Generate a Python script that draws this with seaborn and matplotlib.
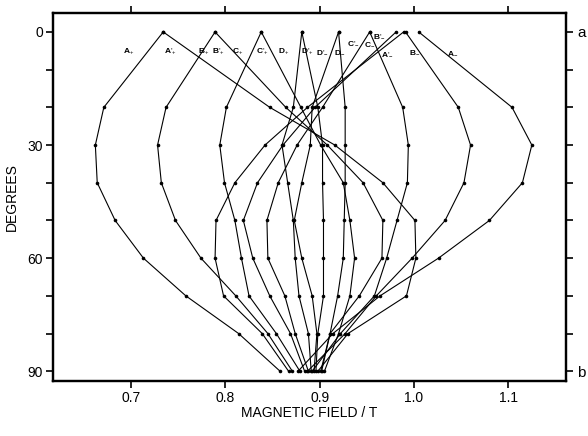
import numpy as np
import pandas as pd
import matplotlib
matplotlib.use("Agg")
import matplotlib.pyplot as plt
import seaborn as sns

# ---- data (field in tesla at each rotation angle) ----
degrees = [0, 20, 30, 40, 50, 60, 70, 80, 90]

A_plus   = [0.734, 0.671, 0.662, 0.664, 0.683, 0.713, 0.758, 0.814, 0.858]
B_plus   = [0.789, 0.737, 0.728, 0.732, 0.747, 0.774, 0.811, 0.845, 0.871]
C_plus   = [0.838, 0.801, 0.794, 0.799, 0.810, 0.817, 0.825, 0.854, 0.879]
D_plus   = [0.881, 0.872, 0.860, 0.866, 0.872, 0.874, 0.878, 0.888, 0.891]
Ap_plus  = [0.734, 0.847, 0.916, 0.967, 1.001, 1.002, 0.992, 0.930, 0.898]
Bp_plus  = [0.789, 0.864, 0.908, 0.946, 0.967, 0.966, 0.942, 0.911, 0.902]
Cp_plus  = [0.838, 0.880, 0.901, 0.925, 0.932, 0.937, 0.932, 0.920, 0.905]
Dp_plus  = [0.881, 0.898, 0.903, 0.903, 0.904, 0.904, 0.904, 0.898, 0.896]
Dp_minus = [0.920, 0.892, 0.890, 0.881, 0.873, 0.881, 0.892, 0.897, 0.894]
D_minus  = [0.920, 0.927, 0.927, 0.927, 0.926, 0.925, 0.919, 0.911, 0.901]
Cp_minus = [0.953, 0.903, 0.876, 0.856, 0.844, 0.845, 0.863, 0.874, 0.888]
C_minus  = [0.953, 0.988, 0.994, 0.993, 0.982, 0.971, 0.958, 0.922, 0.892]
Bp_minus = [0.981, 0.895, 0.861, 0.834, 0.819, 0.829, 0.847, 0.869, 0.884]
B_minus  = [0.991, 1.047, 1.060, 1.053, 1.033, 0.998, 0.960, 0.927, 0.887]
Ap_minus = [0.989, 0.887, 0.842, 0.810, 0.790, 0.789, 0.798, 0.839, 0.867]
A_minus  = [1.005, 1.104, 1.125, 1.115, 1.080, 1.026, 0.964, 0.914, 0.877]

curve_names = ["A+", "B+", "C+", "D+", "A'+", "B'+", "C'+", "D'+",
               "D'-", "D-", "C'-", "C-", "B'-", "B-", "A'-", "A-"]
curve_values = [A_plus, B_plus, C_plus, D_plus, Ap_plus, Bp_plus, Cp_plus, Dp_plus,
                Dp_minus, D_minus, Cp_minus, C_minus, Bp_minus, B_minus, Ap_minus, A_minus]

# curve labels near the top
label_text = [r"A$_{+}$", r"A$'_{+}$", r"B$_{+}$", r"B$'_{+}$", r"C$_{+}$", r"C$'_{+}$",
              r"D$_{+}$", r"D$'_{+}$", r"D$'_{-}$", r"D$_{-}$", r"C$'_{-}$", r"C$_{-}$",
              r"B$'_{-}$", r"A$'_{-}$", r"B$_{-}$", r"A$_{-}$"]
label_field = [0.697, 0.742, 0.777, 0.793, 0.813, 0.839, 0.862, 0.887, 0.903, 0.921,
               0.936, 0.953, 0.963, 0.972, 1.001, 1.041]
label_deg = [5.3, 5.3, 5.3, 5.3, 5.3, 5.3, 5.3, 5.3, 5.3, 5.3, 3.0, 3.2, 1.0, 5.8, 5.3, 5.6]

x_ticks = [0.7, 0.8, 0.9, 1.0, 1.1]
y_ticks_major = [0, 30, 60, 90]
y_ticks_minor = [10, 20, 40, 50, 70, 80]

rows = []
for name, vals in zip(curve_names, curve_values):
    for d, v in zip(degrees, vals):
        rows.append({"curve": name, "field": v, "deg": d})
df = pd.DataFrame(rows)

sns.set_theme(style="ticks")
plt.rcParams["font.family"] = ["Liberation Sans", "DejaVu Sans"]
plt.rcParams["mathtext.fontset"] = "custom"
plt.rcParams["mathtext.rm"] = "Liberation Sans"
plt.rcParams["mathtext.it"] = "Liberation Sans"
plt.rcParams["mathtext.bf"] = "Liberation Sans:bold"
plt.rcParams["text.color"] = "black"
plt.rcParams["axes.labelcolor"] = "black"
plt.rcParams["xtick.color"] = "black"
plt.rcParams["ytick.color"] = "black"

fig = plt.figure(figsize=(5.88, 4.36), dpi=100)
ax = fig.add_axes([0.090, 0.126, 0.873, 0.844])

sns.lineplot(data=df, x="field", y="deg", units="curve", estimator=None, sort=False,
             color="black", linewidth=0.8, marker="o", markersize=2.6,
             markeredgewidth=0, ax=ax, legend=False)

for t, xf, yd in zip(label_text, label_field, label_deg):
    ax.text(xf, yd, t, fontsize=6, fontweight="bold", ha="center", va="center",
            color="black")

ax.set_xlim(0.617, 1.1615)
ax.set_ylim(92.6, -5.0)
ax.set_xticks(x_ticks)
ax.set_xticklabels([f"{v:.1f}" for v in x_ticks])
ax.set_yticks(y_ticks_major)
ax.set_yticks(y_ticks_minor, minor=True)
ax.tick_params(axis="both", which="both", direction="out", color="black",
               labelsize=10, labelcolor="black", width=1.2, pad=2)
ax.tick_params(axis="both", which="major", length=5)
ax.tick_params(axis="y", which="minor", length=5)
ax.tick_params(axis="x", top=True)

for s in ax.spines.values():
    s.set_linewidth(1.6)
    s.set_color("black")

ax2 = ax.twinx()
ax2.set_ylim(ax.get_ylim())
ax2.set_yticks([0, 90])
ax2.set_yticklabels(["a", "b"])
ax2.set_yticks(y_ticks_major[1:3] + y_ticks_minor, minor=True)
ax2.tick_params(axis="y", which="both", direction="out", length=5, width=1.2,
                labelsize=11, colors="black", pad=3)
for s in ax2.spines.values():
    s.set_linewidth(1.6)
    s.set_color("black")

ax.set_xlabel("MAGNETIC FIELD / T", fontsize=10, labelpad=1, color="black")
ax.set_ylabel("DEGREES", fontsize=10, labelpad=6, color="black")
ax.grid(False)

fig.savefig("out.png", dpi=100, facecolor="white")
